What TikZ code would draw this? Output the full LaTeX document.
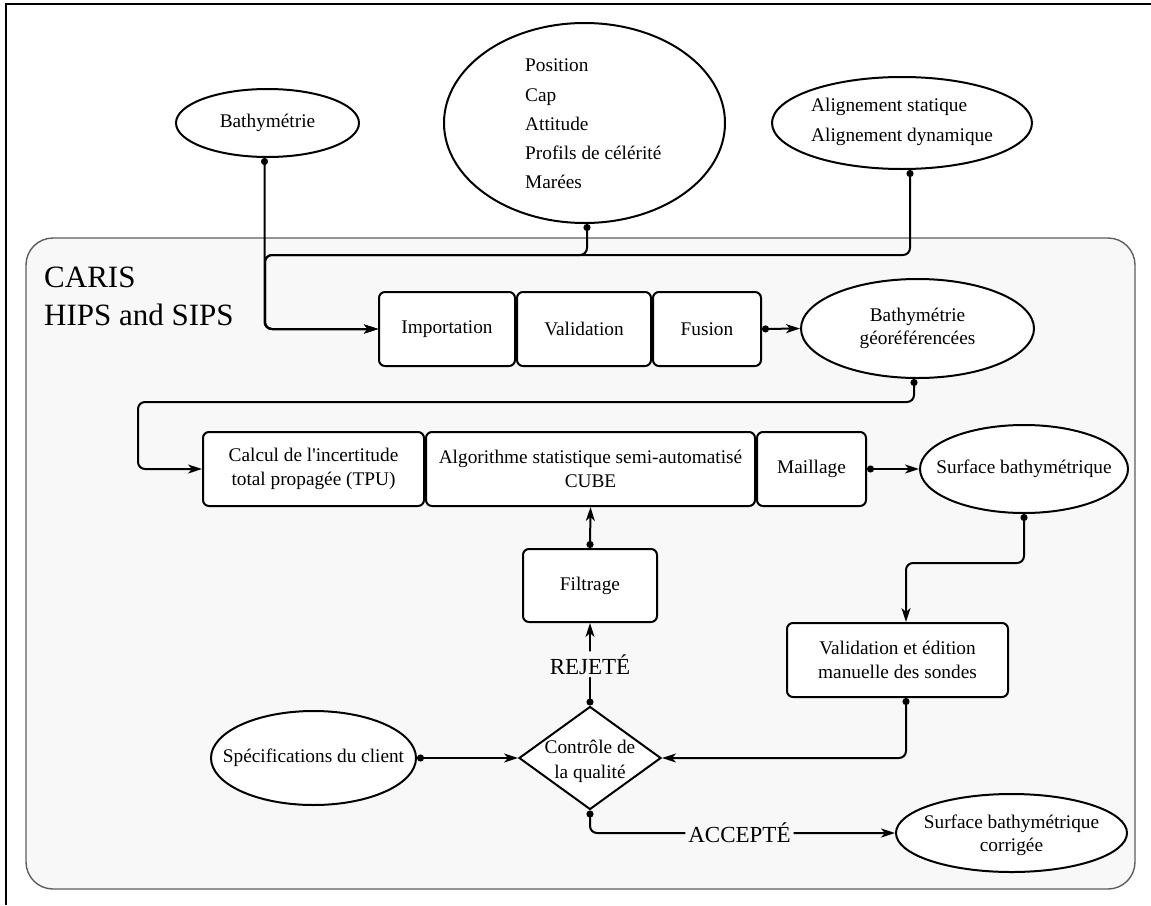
\documentclass[tikz,border=0pt]{standalone}
\usepackage{fontspec}
\setmainfont{Liberation Serif}
\usetikzlibrary{arrows.meta,shapes.geometric,calc}
\definecolor{panel}{HTML}{F8F8F8}
\definecolor{panelline}{HTML}{5E5E5E}
\newcommand\dgfont{\fontsize{19.3}{24.5}\selectfont}
\begin{document}
\begin{tikzpicture}[x=1pt,y=-1pt,
  box/.style 2 args={draw, line width=2pt, rounded corners=6pt, fill=white, inner sep=0pt,
    minimum width=#1, minimum height=#2, align=center, font=\dgfont},
  ell/.style 2 args={draw, ellipse, line width=2pt, fill=white, inner sep=0pt,
    minimum width=#1, minimum height=#2},
  txt/.style={align=center, inner sep=0pt, font=\dgfont},
  conn/.style={line width=2pt, rounded corners=7pt,
    arrows={Circle[length=7pt]-Stealth[length=14pt,width=9pt,inset=4pt]}},
  lbl/.style={fill=panel, inner sep=3pt, font=\fontsize{23}{26}\selectfont},
  big/.style={font=\fontsize{31}{36}\selectfont, inner sep=0pt, anchor=base west}]
\useasboundingbox (0,0) rectangle (1151,905);
% frame
\draw[line width=2pt] (6,905) -- (6,4) -- (1151,4);
% container
\draw[panelline, fill=panel, line width=1.4pt, rounded corners=27pt] (26,238) rectangle (1135,889);
\node[big] (caris) at (44,287) {CARIS};
\node[big] (hips) at (44,325) {HIPS and SIPS};

% top ellipses
\node[ell={183}{68}] (bath) at (267.5,123) {};
\node[txt] (bathT) at (bath) {Bathymétrie};
\node[ell={281}{200}] (bigE) at (584.5,123) {};
\node[txt, anchor=west, align=left, font=\fontsize{19.3}{29.2}\selectfont] (bigT) at (525,124)
  {Position\\Cap\\Attitude\\Profils de célérité\\Marées};
\node[ell={260}{92}] (align) at (902,123) {};
\node[txt, anchor=west, align=left, font=\fontsize{19.3}{30}\selectfont] (alignT) at (811,122)
  {Alignement statique\\Alignement dynamique};

% row 1
\node[box={136}{74}] (imp) at (447,329) {Importation};
\node[box={134}{74}] (val) at (584,329) {Validation};
\node[box={108}{74}] (fus) at (707,329) {Fusion};
\node[ell={233}{99}] (geo) at (917.5,328.5) {};
\node[txt, font=\fontsize{19.3}{22.5}\selectfont] (geoT) at (geo) {Bathymétrie\\géoréférencées};

% row 2
\node[box={221}{74}] (calc) at (313.5,469) {Calcul de l\textquotesingle incertitude\\total propagée (TPU)};
\node[box={329}{74}] (algo) at (590.5,469) {Algorithme statistique semi-automatisé\\CUBE};
\node[box={109}{74}] (mail) at (811.5,469) {Maillage};
\node[ell={208}{88}] (surf) at (1024,469) {};
\node[txt] (surfT) at (surf) {Surface bathymétrique};

% lower part
\node[box={134}{73}] (filt) at (590,585.5) {Filtrage};
\node[box={221}{74}] (valid) at (897.5,660) {Validation et édition\\manuelle des sondes};
\node[ell={205}{94}] (spec) at (313.5,758) {};
\node[txt] (specT) at (spec) {Spécifications du client};
\node[draw, diamond, line width=2pt, fill=white, inner sep=0pt,
  minimum width=142, minimum height=103] (ctrl) at (590,758) {};
\node[txt, font=\fontsize{19.3}{25}\selectfont] (ctrlT) at (590,761) {Contrôle de\\la qualité};
\node[ell={231}{78}] (corr) at (1011.5,833) {};
\node[txt, font=\fontsize{19.3}{23}\selectfont] (corrT) at (1011.5,835) {Surface bathymétrique\\corrigée};

% junction coordinates
\coordinate (j1) at (265,255);
\coordinate (j3) at (138,402);
\coordinate (j4) at (906,563);

% connectors
\draw[conn] ([xshift=-3pt]bath.south) |- (imp.west);
\draw[conn] ([xshift=2.5pt]bigE.south) |- (j1) |- (imp.west);
\draw[conn] ([xshift=8pt]align.south) |- (j1) |- (imp.west);
\draw[conn] (fus.east) -- (geo.west);
\draw[conn] ([xshift=-3.5pt]geo.south) |- (j3) |- (calc.west);
\draw[conn] (mail.east) -- (surf.west);
\draw[conn] (surf.south) |- (j4) -- ([xshift=8.5pt]valid.north);
\draw[conn] ([xshift=8.5pt]valid.south) |- (ctrl.east);
\draw[conn] (spec.east) -- (ctrl.west);
\draw[conn] (ctrl.north) -- node[lbl] (rej) {REJETÉ} (filt.south);
\draw[conn] (filt.north) -- (algo.south);
\draw[conn] (ctrl.south) |- node[lbl, pos=0.745] (acc) {ACCEPTÉ} (corr.west);
\end{tikzpicture}
\end{document}
